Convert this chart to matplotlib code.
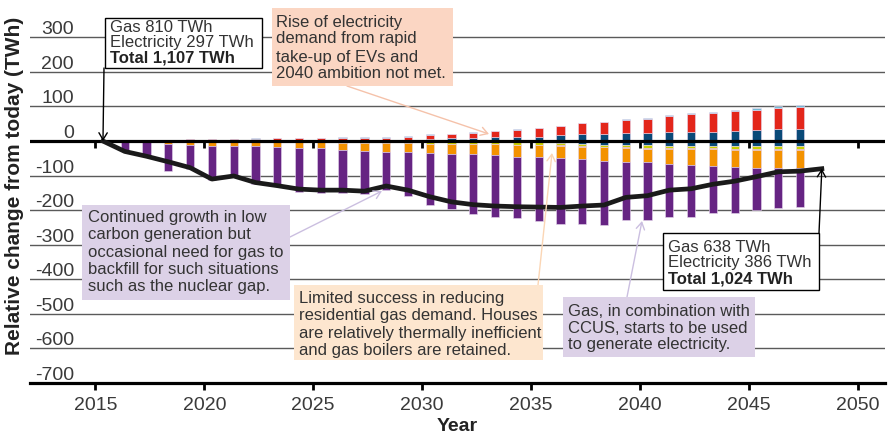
import matplotlib
matplotlib.use("Agg")
import matplotlib.pyplot as plt
from matplotlib.patches import Rectangle
import numpy as np

plt.rcParams['font.family'] = ['Liberation Sans', 'DejaVu Sans']

# Data (TWh change vs today)
years = list(range(2016, 2048))
pos_navy = [0, 0, 0, 0, 0, 0, 1, 1, 1, 1,
            3, 3, 3, 4, 6, 8, 10, 11, 12, 13, 17,
            19, 19, 22, 22, 25, 25, 27, 29, 32, 34, 36]
pos_red = [1, 2, 3, 5, 5, 5, 6, 7, 7, 7,
           7, 7, 7, 9, 11, 11, 14, 19, 21, 24, 27,
           32, 37, 39, 43, 47, 52, 55, 58, 58, 61, 62]
pos_lblue = [0, 0, 0, 0, 0, 0, 1, 1, 1, 1,
             1, 1, 1, 1, 2, 2, 2, 0, 1, 2, 0,
             0, 0, 2, 3, 3, 3, 3, 3, 5, 5, 7]
neg_navy = [0] * 17 + [-3, -4, -4, -5] + [-9, -12, -12, -12, -14, -14, -14, -14, -14, -14, -14]
neg_yellow = [0, 0, 0, -1, -1, -1, -2, -2, -2, -2,
              -6, -6, -7, -7, -8, -8, -8,
              -6, -6, -6, -6,
              -5, -4, -6, -7, -7, -7, -7, -9, -9, -9, -10]
neg_coral = [0] * 18 + [-2, -2, -2] + [-2, -2, -3, -3, -3, -3, -3, -3, -3, -3, -3]
neg_orange = [0, -2, -8, -11, -12, -12, -13, -16, -18, -18,
              -20, -22, -24, -24, -26, -28, -30,
              -32, -33, -35, -37,
              -37, -39, -39, -40, -42, -45, -48, -48, -51, -53, -52]
neg_purple = [-26, -41, -78, -70, -100, -92, -108, -107, -127, -130,
              -124, -126, -111, -127, -150, -160, -172,
              -178, -179, -184, -191,
              -186, -185, -167, -167, -153, -152, -137, -133, -123, -114, -113]

line_years = list(range(2015, 2049))
net_change = [0, -30, -44, -60, -77, -110, -101, -120, -129, -139, -142,
              -142, -145, -130, -142, -161, -176, -184, -188, -190, -191, -192,
              -188, -185, -163, -158, -142, -138, -125, -116, -103, -89, -87, -80]

ytick_vals = [300, 200, 100, 0, -100, -200, -300, -400, -500, -600, -700]
xtick_vals = [2015, 2020, 2025, 2030, 2035, 2040, 2045, 2050]

W, H = 888, 436
fig = plt.figure(figsize=(W / 100, H / 100), dpi=100)
ax = fig.add_axes([30 / W, 1 - 383 / H, 855 / W, (383 - 27) / H])
ax.set_xlim(2012.0, 2051.25)
ax.set_ylim(-700, 330)

# grid lines and y labels sitting on them
for v in ytick_vals[:-1]:
    if v == 0:
        ax.axhline(0, color='black', lw=2.3, zorder=5)
    else:
        ax.axhline(v, color='#5a5a5a', lw=1.0, zorder=0)
for v in ytick_vals:
    ax.text(0.0515, v + 9, str(v), transform=ax.get_yaxis_transform(),
            ha='right', va='baseline', fontsize=14, color='#3a3a3a', zorder=1)
ax.set_yticks([])

for s in ['top', 'left', 'right']:
    ax.spines[s].set_visible(False)
ax.spines['bottom'].set_linewidth(2.3)
ax.set_xticks(xtick_vals)
ax.tick_params(axis='x', direction='out', length=5, width=2, labelsize=14,
               labelcolor='#3a3a3a', pad=5)
# tick marks under the zero line
ax.plot(xtick_vals, [0] * len(xtick_vals), ls='none', marker=3, markersize=5,
        mew=2, color='black', zorder=5)

# stacked bars
x = np.array(years) + 0.35
bw = 0.38
edge = dict(edgecolor='#e6d8ee', linewidth=0.4, zorder=2)
bottom = np.zeros(len(years))
for vals, col in [(pos_navy, '#0a4a78'), (pos_red, '#e3261b'), (pos_lblue, '#74b9d4')]:
    ax.bar(x, vals, bw, bottom=bottom, color=col, **edge)
    bottom = bottom + np.array(vals)
bottom = np.zeros(len(years))
for vals, col in [(neg_navy, '#0a4a78'), (neg_yellow, '#c9d000'), (neg_coral, '#ec6a3a'),
                  (neg_orange, '#f39200'), (neg_purple, '#662483')]:
    ax.bar(x, vals, bw, bottom=bottom, color=col, **edge)
    bottom = bottom + np.array(vals)

lx = np.array(line_years) + 0.35
ax.plot(lx, net_change, color='#1a1a1a', lw=3.4, zorder=6, solid_joinstyle='round')

ax.set_xlabel('Year', fontsize=14, fontweight='bold', color='#222222', labelpad=3)
fig.text(15 / W, 1 - 186 / H, 'Relative change from today (TWh)', rotation=90,
         ha='center', va='center', fontsize=15, fontweight='bold', color='#222222')


def fx(px):
    return px / W


def fy(py):
    return 1 - py / H


def box(x0, y0, x1, y1, fc, ec='none'):
    fig.add_artist(Rectangle((fx(x0), fy(y1)), fx(x1) - fx(x0), fy(y0) - fy(y1),
                             transform=fig.transFigure, facecolor=fc, edgecolor=ec,
                             lw=1.0, zorder=8))


def lines(x0, ys, texts, bold_last=False):
    for i, (yy, t) in enumerate(zip(ys, texts)):
        bold = bold_last and i == len(texts) - 1
        fig.text(fx(x0), fy(yy), t, ha='left', va='center', fontsize=12,
                 color='#222222' if bold else '#333333',
                 fontweight='bold' if bold else 'normal', zorder=9)


def arrow(xy, xytext, color, coords='figure pixels'):
    ax.annotate('', xy=xy, xycoords=coords, xytext=xytext, textcoords='figure pixels',
                arrowprops=dict(arrowstyle='->,head_length=0.5,head_width=0.3', color=color,
                                lw=1.0, shrinkA=0, shrinkB=0), zorder=7)


# start / end summary boxes
box(105, 18, 262, 68, 'white', 'black')
lines(110, [27, 43, 58], ['Gas 810 TWh', 'Electricity 297 TWh', 'Total 1,107 TWh'], True)
arrow((line_years[0] + 0.35, net_change[0]), (104, H - 68), 'black', coords='data')

box(663, 233, 819, 290, 'white', 'black')
lines(668, [247, 263, 279], ['Gas 638 TWh', 'Electricity 386 TWh', 'Total 1,024 TWh'], True)
arrow((line_years[-1] + 0.35, net_change[-1]), (819, H - 233), 'black', coords='data')

# commentary boxes
box(272, 8, 453, 86, '#fbd6c3')
lines(276, [22, 39, 57, 74], ['Rise of electricity', 'demand from rapid',
                              'take-up of EVs and', '2040 ambition not met.'])
arrow((489, H - 134), (347, H - 86), '#f5c2aa')

box(82, 205, 290, 300, '#dcd1e7')
lines(88, [217, 234, 252, 269, 286], ['Continued growth in low', 'carbon generation but',
                                      'occasional need for gas to',
                                      'backfill for such situations',
                                      'such as the nuclear gap.'])
arrow((382, H - 191), (290, H - 237), '#cbbfe0')

box(294, 285, 543, 360, '#fde6cf')
lines(299, [298, 315, 333, 350], ['Limited success in reducing',
                                  'residential gas demand. Houses',
                                  'are relatively thermally inefficient',
                                  'and gas boilers are retained.'])
arrow((552, H - 153), (538, H - 285), '#fbd6b5')

box(563, 297, 755, 357, '#dcd1e7')
lines(568, [311, 328, 345], ['Gas, in combination with', 'CCUS, starts to be used',
                             'to generate electricity.'])
arrow((642, H - 221), (627, H - 297), '#cbbfe0')

fig.savefig('out.png', dpi=100)
